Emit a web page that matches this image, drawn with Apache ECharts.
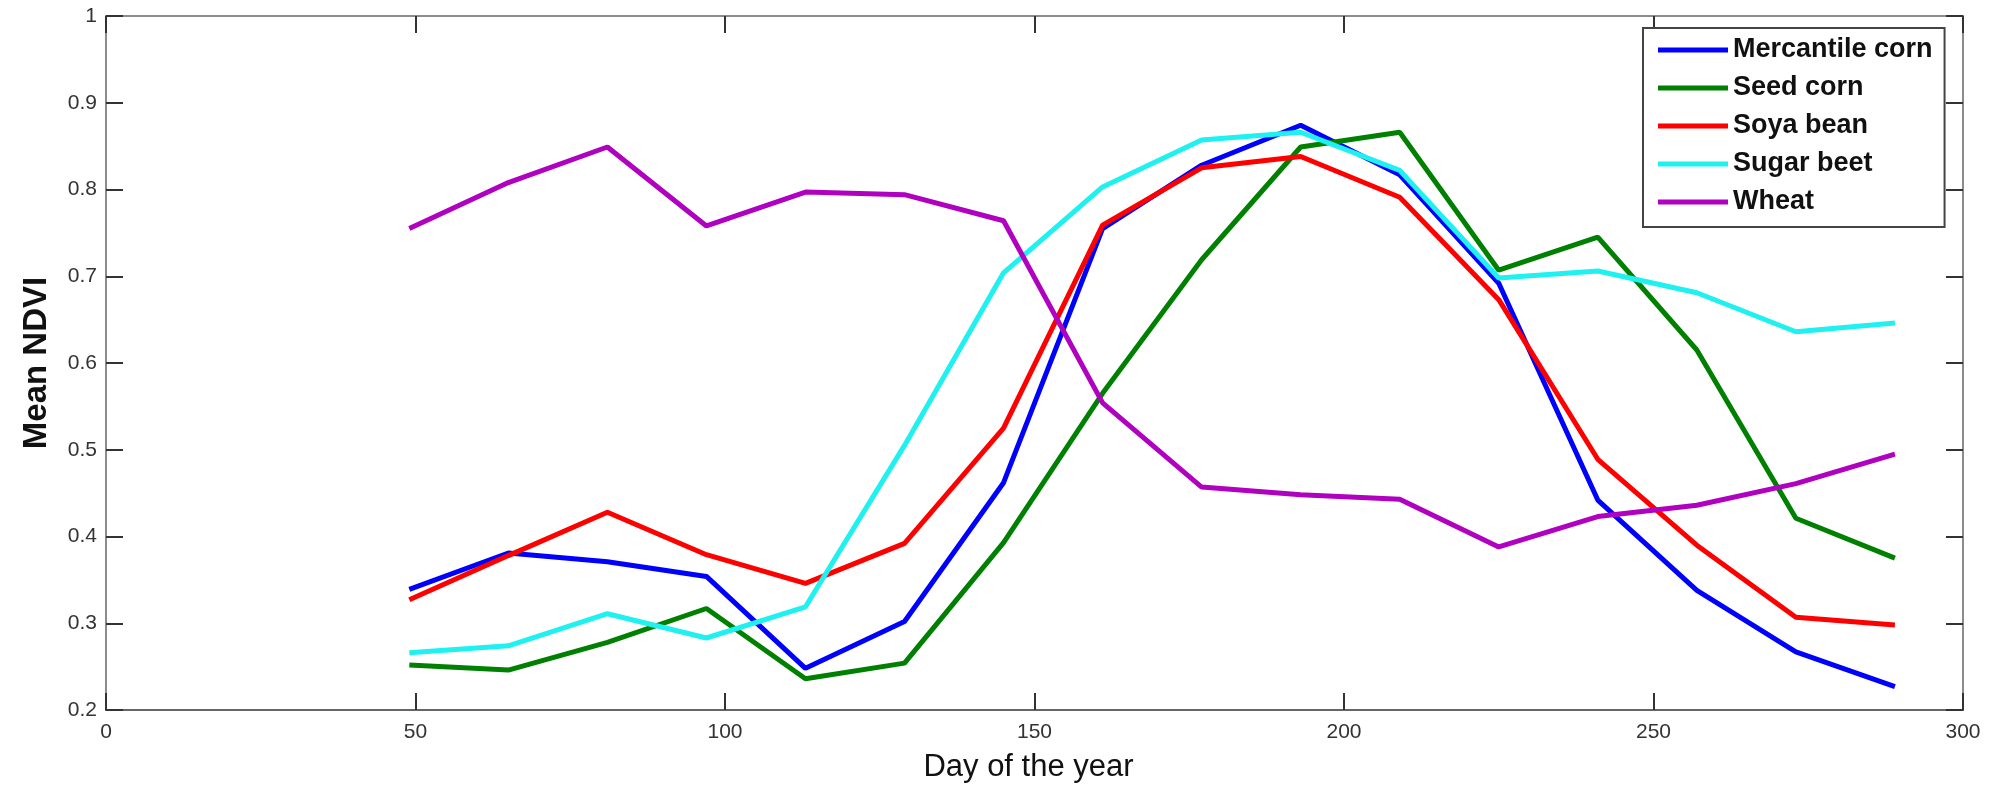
<!DOCTYPE html>
<html>
<head>
<meta charset="utf-8">
<script src="https://cdn.jsdelivr.net/npm/echarts@6/dist/echarts.min.js"></script>
<style>
html,body{margin:0;padding:0;background:#fff;}
#chart{width:2014px;height:789px;}
</style>
</head>
<body>
<div id="chart"></div>
<script>
const days = [49, 65, 81, 97, 113, 129, 145, 161, 177, 193, 209, 225, 241, 257, 273, 289];
const seriesNames = ['Mercantile corn', 'Seed corn', 'Soya bean', 'Sugar beet', 'Wheat'];
const mercantileCorn = [0.339, 0.381, 0.371, 0.354, 0.248, 0.302, 0.462, 0.755, 0.828, 0.874, 0.817, 0.692, 0.442, 0.338, 0.267, 0.227];
const seedCorn = [0.252, 0.246, 0.278, 0.317, 0.236, 0.254, 0.393, 0.565, 0.719, 0.849, 0.866, 0.707, 0.745, 0.615, 0.421, 0.375];
const soyaBean = [0.327, 0.378, 0.428, 0.379, 0.346, 0.392, 0.525, 0.759, 0.825, 0.838, 0.791, 0.673, 0.489, 0.390, 0.307, 0.298];
const sugarBeet = [0.266, 0.274, 0.311, 0.283, 0.319, 0.505, 0.704, 0.803, 0.857, 0.866, 0.822, 0.698, 0.706, 0.681, 0.636, 0.646];
const wheat = [0.755, 0.808, 0.849, 0.758, 0.797, 0.794, 0.764, 0.554, 0.457, 0.448, 0.443, 0.388, 0.423, 0.436, 0.461, 0.495];
const xTicks = [0, 50, 100, 150, 200, 250, 300];
const yTicks = [0.2, 0.3, 0.4, 0.5, 0.6, 0.7, 0.8, 0.9, 1];

const allValues = [mercantileCorn, seedCorn, soyaBean, sugarBeet, wheat];
const colors = ['#0000ff', '#008000', '#ff0000', '#1ff0f0', '#b000c0'];

const chart = echarts.init(document.getElementById('chart'));
const frameColor = '#8c8c8c';
function ticks(color) { return {show: true, inside: true, length: 17, lineStyle: {color: color, width: 2}}; }

const option = {
  backgroundColor: '#fff',
  animation: false,
  grid: {left: 106, right: 51, top: 16, bottom: 79, show: true, borderColor: frameColor, borderWidth: 2, containLabel: false},
  legend: {
    left: 1643, top: 28, orient: 'vertical',
    backgroundColor: '#fff', borderColor: '#444', borderWidth: 2, borderRadius: 0,
    padding: [7, 12, 10, 15],
    icon: 'rect', itemWidth: 70, itemHeight: 5, itemGap: 8,
    textStyle: {fontFamily: 'Liberation Sans, Arial, sans-serif', fontWeight: 'bold', fontSize: 27, color: '#111', lineHeight: 30},
    data: seriesNames
  },
  xAxis: [{
    type: 'value', min: xTicks[0], max: xTicks[xTicks.length - 1], interval: 50,
    name: 'Day of the year', nameLocation: 'middle', nameGap: 42,
    nameTextStyle: {fontFamily: 'Liberation Sans, Arial, sans-serif', fontSize: 31, color: '#111', padding: [0, 12, 0, 0]},
    axisLine: {show: true, onZero: false, lineStyle: {color: '#666', width: 2}},
    axisTick: ticks('#333'),
    axisLabel: {show: true, margin: 12, fontFamily: 'Liberation Sans, Arial, sans-serif', fontSize: 21, color: '#333', showMinLabel: true, showMaxLabel: true},
    splitLine: {show: false}
  }, {
    type: 'value', position: 'top', min: xTicks[0], max: xTicks[xTicks.length - 1], interval: 50,
    axisLine: {show: true, onZero: false, lineStyle: {color: frameColor, width: 2}},
    axisTick: ticks('#333'), axisLabel: {show: false}, splitLine: {show: false}
  }],
  yAxis: [{
    type: 'value', position: 'left', min: 0.2, max: 1, interval: 0.1,
    name: 'Mean NDVI', nameLocation: 'middle', nameGap: 53, nameRotate: 90,
    nameTextStyle: {fontFamily: 'Liberation Sans, Arial, sans-serif', fontWeight: 'bold', fontSize: 33, color: '#111'},
    axisLine: {show: true, onZero: false, lineStyle: {color: frameColor, width: 2}},
    axisTick: ticks('#333'),
    axisLabel: {show: true, margin: 9, fontFamily: 'Liberation Sans, Arial, sans-serif', fontSize: 21, color: '#333', showMinLabel: true, showMaxLabel: true,
      formatter: v => String(Math.round(v * 10) / 10)},
    splitLine: {show: false}
  }, {
    type: 'value', position: 'right', min: 0.2, max: 1, interval: 0.1,
    axisLine: {show: true, onZero: false, lineStyle: {color: frameColor, width: 2}},
    axisTick: ticks('#333'), axisLabel: {show: false}, splitLine: {show: false}
  }],
  series: seriesNames.map((name, k) => ({
    name: name, type: 'line', xAxisIndex: 0, yAxisIndex: 0,
    data: days.map((d, i) => [d, allValues[k][i]]),
    symbol: 'none', smooth: false,
    itemStyle: {color: colors[k]},
    lineStyle: {color: colors[k], width: 5}
  }))
};
chart.setOption(option);
</script>
</body>
</html>
